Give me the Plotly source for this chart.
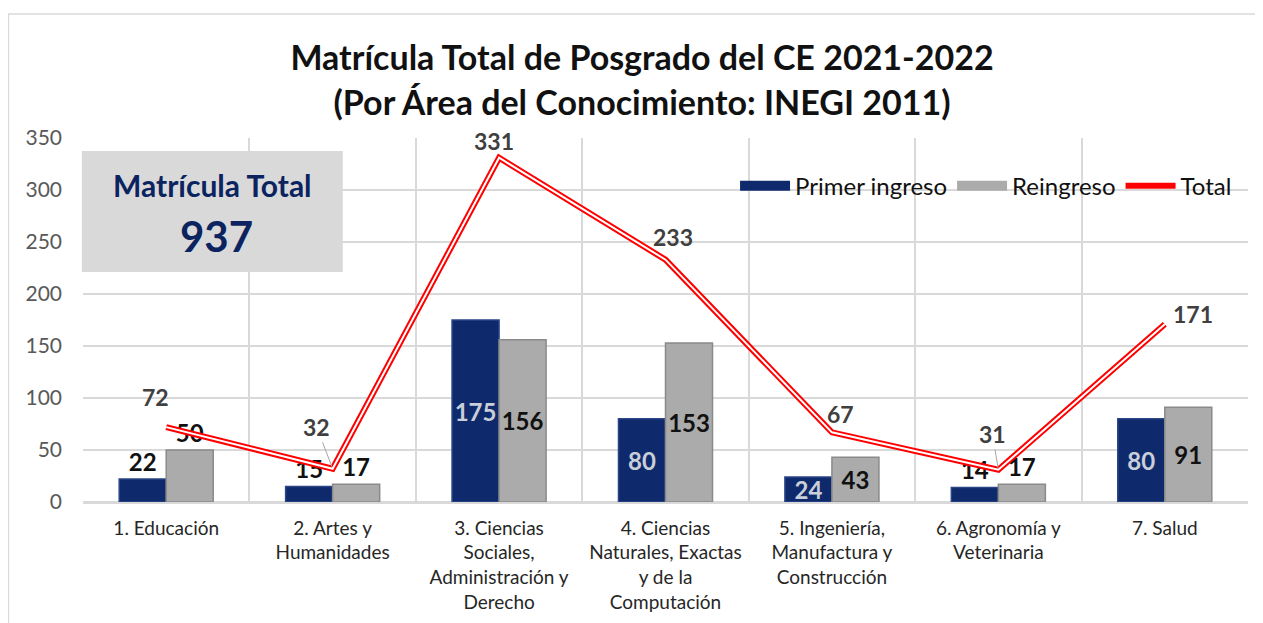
import plotly.graph_objects as go

areas = [
    '1. Educación',
    '2. Artes y<br>Humanidades',
    '3. Ciencias<br>Sociales,<br>Administración y<br>Derecho',
    '4. Ciencias<br>Naturales, Exactas<br>y de la<br>Computación',
    '5. Ingeniería,<br>Manufactura y<br>Construcción',
    '6. Agronomía y<br>Veterinaria',
    '7. Salud',
]
primer_ingreso = [22, 15, 175, 80, 24, 14, 80]
reingreso = [50, 17, 156, 153, 43, 17, 91]
total = [72, 32, 331, 233, 67, 31, 171]
matricula_total = 937

FONT = 'Lato'
NAVY = '#0f2a6c'
GRAY = '#ababab'

fig = go.Figure()

fig.add_trace(go.Bar(
    x=areas, y=primer_ingreso, name='Primer ingreso', showlegend=False,
    legendgroup='pi',
    marker=dict(color=NAVY, line=dict(color='#2b4585', width=1.5)),
    text=primer_ingreso,
    textposition=['outside', 'outside', 'inside', 'inside', 'inside', 'outside', 'inside'],
    insidetextanchor='middle',
    constraintext='none', textangle=0,
    textfont=dict(family=FONT, size=24, weight='bold',
                  color=['#111111', '#111111', '#c9cfd9', '#c9cfd9', '#c9cfd9', '#111111', '#c9cfd9']),
    cliponaxis=False,
))

fig.add_trace(go.Bar(
    x=areas, y=reingreso, name='Reingreso', showlegend=False,
    legendgroup='re',
    marker=dict(color=GRAY, line=dict(color='#8a8a8a', width=1.5)),
    text=reingreso,
    textposition=['outside', 'outside', 'inside', 'inside', 'inside', 'outside', 'inside'],
    insidetextanchor='middle',
    constraintext='none', textangle=0,
    textfont=dict(family=FONT, size=24, weight='bold', color='#111111'),
    cliponaxis=False,
))

# wide legend keys for the bars (Excel style)
fig.add_trace(go.Scatter(x=[None], y=[None], mode='lines', name='Primer ingreso',
                         legendgroup='pi', line=dict(color=NAVY, width=12)))
fig.add_trace(go.Scatter(x=[None], y=[None], mode='lines', name='Reingreso',
                         legendgroup='re', line=dict(color=GRAY, width=12)))

# double line look: red wide line with thin white core
fig.add_trace(go.Scatter(
    x=areas, y=total, name='Total', mode='lines',
    line=dict(color='#ff0000', width=6),
    cliponaxis=False,
))
fig.add_trace(go.Scatter(
    x=areas, y=total, mode='lines', showlegend=False, hoverinfo='skip',
    line=dict(color='white', width=2),
    cliponaxis=False,
))

# labels of the total line (offsets as in the original)
shifts = [(-11, 30), None, (-5, 17), (7, 23), (9, 18), None, (28, 10)]
arrows = {1: (-16, -42), 5: (-6, -36)}
for i, (a, v) in enumerate(zip(areas, total)):
    if i in arrows:
        ax, ay = arrows[i]
        fig.add_annotation(x=a, y=v, text=f'<b>{v}</b>', showarrow=True,
                           arrowhead=0, arrowwidth=1, arrowcolor='#a6a6a6',
                           ax=ax, ay=ay, standoff=2,
                           font=dict(family=FONT, size=23, color='#404040'))
    else:
        dx, dy = shifts[i]
        fig.add_annotation(x=a, y=v, text=f'<b>{v}</b>', showarrow=False,
                           xshift=dx, yshift=dy,
                           font=dict(family=FONT, size=23, color='#404040'))

# "Matrícula Total" box
fig.add_shape(type='rect', xref='paper', yref='paper',
              x0=-0.001, x1=0.223, y0=0.632, y1=0.964,
              fillcolor='#d9d9d9', line=dict(width=0), layer='above')
fig.add_annotation(xref='paper', yref='paper', x=0.111, y=0.871,
                   xanchor='center', yanchor='middle',
                   text='<b>Matrícula Total</b>', showarrow=False,
                   font=dict(family=FONT, size=30, color='#0b2460'))
fig.add_annotation(xref='paper', yref='paper', x=0.115, y=0.731,
                   xanchor='center', yanchor='middle',
                   text=f'<b>{matricula_total}</b>', showarrow=False,
                   font=dict(family=FONT, size=42, color='#0b2460'))

# chart border
fig.add_shape(type='rect', xref='paper', yref='paper',
              x0=-0.064, x1=1.02, y0=-0.35, y1=1.341,
              line=dict(color='#d9d9d9', width=1.5), layer='below')

fig.update_layout(
    width=1263, height=623,
    margin=dict(l=75, r=23, t=130, b=129),
    paper_bgcolor='white', plot_bgcolor='white',
    font=dict(family=FONT, color='#404040'),
    title=dict(
        text='<b>Matrícula Total de Posgrado del CE 2021-2022<br>(Por Área del Conocimiento: INEGI 2011)</b>',
        x=0.502, xanchor='center', y=0.9, yanchor='middle',
        font=dict(family=FONT, size=34, color='#111111'),
    ),
    barmode='group', bargap=0.435, bargroupgap=0,
    legend=dict(orientation='h', x=0.9906, xanchor='right', y=0.868, yanchor='middle',
                font=dict(family=FONT, size=24, color='#111111'),
                bgcolor='rgba(0,0,0,0)', traceorder='normal', itemwidth=50),
    showlegend=True,
)
fig.update_xaxes(
    tickson='boundaries', showgrid=True, gridcolor='#d9d9d9', gridwidth=1.5,
    showline=True, linecolor='#d9d9d9', linewidth=1.5, ticks='',
    tickfont=dict(family=FONT, size=19, color='#262626'),
    tickangle=0, ticklabelstandoff=8,
)
fig.update_yaxes(
    range=[0, 350], dtick=50, showgrid=True, gridcolor='#d9d9d9', gridwidth=1.5,
    zeroline=True, zerolinecolor='#d9d9d9', zerolinewidth=1.5,
    tickfont=dict(family=FONT, size=21, color='#595959'),
    ticks='', ticklabelstandoff=20,
)

fig.write_html('out.html')
